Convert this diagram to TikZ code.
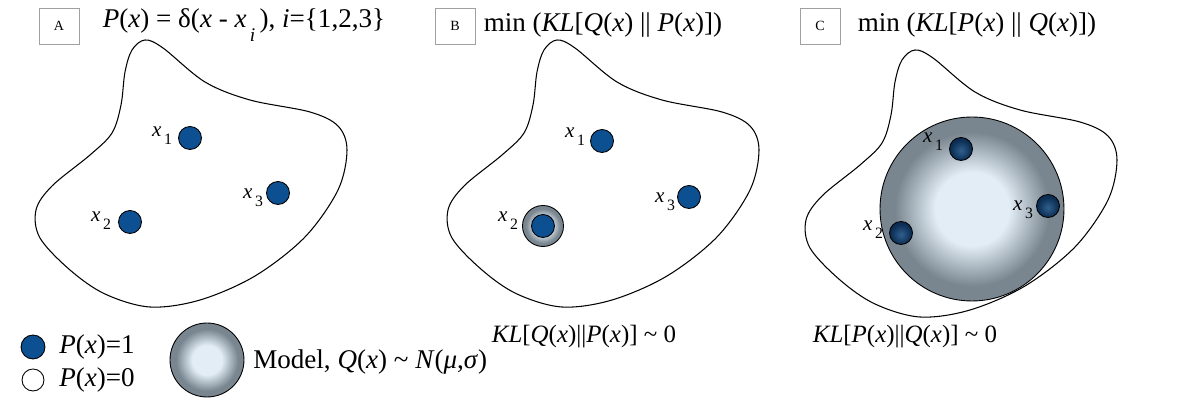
\documentclass[tikz,border=0pt]{standalone}
\usepackage{fontspec}
\setmainfont{Liberation Serif}
\usetikzlibrary{positioning}
\definecolor{pblue}{RGB}{12,80,145}
\definecolor{pmid}{RGB}{48,96,142}
\definecolor{pdark}{RGB}{12,46,84}
\definecolor{qlight}{RGB}{226,237,246}
\definecolor{qgray}{RGB}{122,134,143}
\definecolor{tagline}{RGB}{160,160,160}
\pgfdeclareradialshading{qmodel}{\pgfpoint{0bp}{0bp}}{color(0bp)=(qlight); color(10bp)=(qlight); color(21bp)=(qgray); color(50bp)=(qgray)}
\pgfdeclareradialshading{pshade}{\pgfpoint{0bp}{-4bp}}{color(0bp)=(pmid); color(22bp)=(pdark); color(50bp)=(pdark)}
\newcommand{\xs}[1]{\textit{x}\raisebox{-0.8ex}{\fontsize{9}{9}\selectfont\,#1}}
\tikzset{
  pdot/.style={circle, draw, fill=pblue, minimum size=0.46cm, inner sep=0pt, line width=0.5pt},
  odot/.style={circle, draw, fill=white, minimum size=0.44cm, inner sep=0pt, line width=0.5pt},
  qdot/.style={circle, draw, shade, shading=pshade, minimum size=0.46cm, inner sep=0pt, line width=0.5pt},
  model/.style={circle, draw, shade, shading=qmodel, inner sep=0pt, line width=0.5pt},
  tagbox/.style={draw=tagline, minimum width=0.8cm, minimum height=0.72cm, inner sep=0pt, font=\fontsize{8}{9}\selectfont},
  title/.style={inner sep=0pt, font=\fontsize{15.4}{18}\selectfont},
  result/.style={inner sep=0pt, font=\fontsize{14.2}{17}\selectfont},
  lbl/.style={inner sep=0pt, font=\fontsize{12}{14}\selectfont},
  blob/.pic={
    \draw[line width=0.6pt] plot[smooth cycle, tension=0.55] coordinates {
      (145,40) (163,48) (205,82) (250,100) (310,112) (338,126) (347,150)
      (338,190) (305,237) (255,276) (200,300) (150,307) (105,294) (70,270)
      (40,238) (36,210) (52,186) (90,155) (112,133) (121,105) (125,72) (132,50)};
  }
}
\begin{document}
\begin{tikzpicture}[x=0.02cm, y=-0.02cm]
  \useasboundingbox (0,0) rectangle (1191,404);
  % panel A
  \node[tagbox] (tagA) at (59,26) {A};
  \node[title] (titleA) at (244,25) {\textit{P}(\textit{x}) = δ(\textit{x} - \textit{x}\raisebox{-1.1ex}{\fontsize{11}{11}\selectfont\,\textit{i}}\,), \textit{i}=\{1,2,3\}};
  \pic at (0,0) {blob};
  \node[pdot] (a1) at (190,138) {};
  \node[pdot] (a2) at (130,222) {};
  \node[pdot] (a3) at (278,193) {};
  \node[lbl] (la1) at (162,136) {\xs{1}};
  \node[lbl] (la2) at (101,221) {\xs{2}};
  \node[lbl] (la3) at (253,198) {\xs{3}};
  % panel B
  \node[tagbox] (tagB) at (455,26) {B};
  \node[title] (titleB) at (603,25) {min (\textit{KL}[\textit{Q}(\textit{x}) || \textit{P}(\textit{x})])};
  \pic at (412,0) {blob};
  \node[model, minimum size=0.82cm] (qb) at (543,226) {};
  \node[pdot] (b1) at (602,141) {};
  \node[pdot] (b2) at (543,226) {};
  \node[pdot] (b3) at (689,197) {};
  \node[lbl] (lb1) at (575,137) {\xs{1}};
  \node[lbl] (lb2) at (508,221) {\xs{2}};
  \node[lbl] (lb3) at (665,202) {\xs{3}};
  \node[result] (klB) at (584,337) {\textit{KL}[\textit{Q}(\textit{x})||\textit{P}(\textit{x})] \textasciitilde{} 0};
  % panel C
  \node[tagbox] (tagC) at (820,26) {C};
  \node[title] (titleC) at (977,25) {min (\textit{KL}[\textit{P}(\textit{x}) || \textit{Q}(\textit{x})])};
  \pic at (770,10) {blob};
  \node[model, minimum size=3.68cm] (qc) at (972,209) {};
  \node[qdot] (c1) at (961,149) {};
  \node[qdot] (c2) at (901,233) {};
  \node[qdot] (c3) at (1048,206) {};
  \node[lbl] (lc1) at (933,142) {\xs{1}};
  \node[lbl] (lc2) at (873,230) {\xs{2}};
  \node[lbl] (lc3) at (1023,210) {\xs{3}};
  \node[result] (klC) at (905,337) {\textit{KL}[\textit{P}(\textit{x})||\textit{Q}(\textit{x})] \textasciitilde{} 0};
  % legend
  \node[pdot, minimum size=0.48cm] (key1) at (33,347) {};
  \node[odot] (key0) at (33,380) {};
  \node[title, anchor=west] (lkey1) at (59,347) {\textit{P}(\textit{x})=1};
  \node[title, anchor=west] (lkey0) at (59,380) {\textit{P}(\textit{x})=0};
  \node[model, minimum size=1.48cm] (keyq) at (207,360) {};
  \node[title, anchor=west] (lkeyq) at (253,362) {Model, \textit{Q}(\textit{x}) \textasciitilde{} \textit{N}(\textit{μ},\textit{σ})};
\end{tikzpicture}
\end{document}
